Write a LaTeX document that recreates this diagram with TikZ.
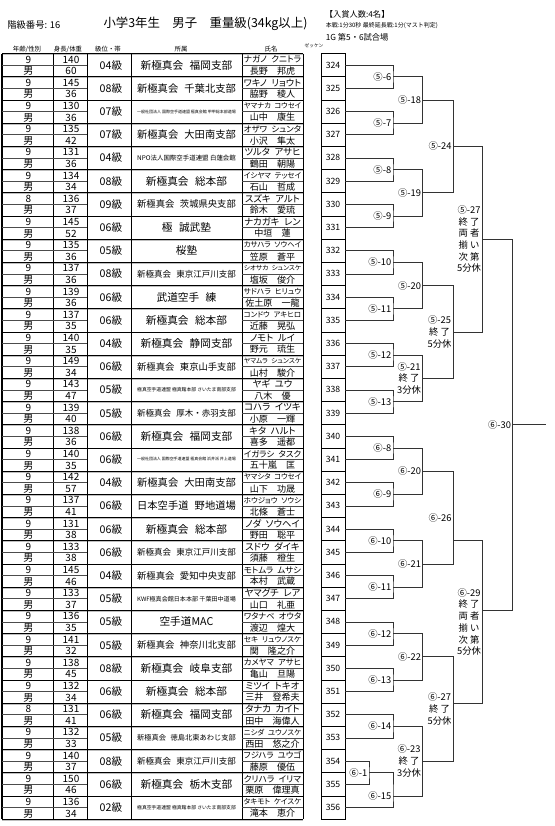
\documentclass[tikz,border=0pt]{standalone}
\usepackage{fontspec}
\usepackage{graphicx}
\setmainfont{Noto Sans CJK JP}
\newfontfamily\kanafont{Noto Sans CJK JP}[RawFeature=+palt]
\newcommand{\fsz}[1]{\fontsize{#1}{#1}\selectfont}
\newcommand{\gap}{\hspace{0.6em}}
\newcommand{\kgap}{\hspace{0.5em}}
\newsavebox{\fitbx}
\newcommand{\fitto}[2]{\sbox{\fitbx}{#2}\ifdim\wd\fitbx>#1\relax\resizebox{#1}{!}{\usebox{\fitbx}}\else\usebox{\fitbx}\fi}
% one bout of the bracket: name, x, y of line, y of label, upper, lower, label
\newcommand{\bout}[7]{%
	\coordinate (#1) at (#2,#3);
	\draw[bline] (#5) -| (#1) |- (#6);
	\node[blab] (#1l) at ({#2-1.5},#4) {#7};}

\begin{document}
\begin{tikzpicture}[x=0.75pt, y=-0.75pt,
	cell/.style={inner sep=0pt, font=\fsz{7.5}},
	grade/.style={inner sep=0pt, font=\fsz{8}},
	club/.style={inner sep=0pt, font=\fsz{8}},
	kana/.style={inner sep=0pt, font=\kanafont\fsz{7}},
	kanji/.style={inner sep=0pt, font=\fsz{6.8}},
	zcell/.style={draw, line width=0.5pt, minimum width=18pt, minimum height=17.4pt, inner sep=0pt, font=\fsz{6.5}},
	hdr/.style={inner sep=0pt, font=\fsz{4.8}},
	bline/.style={line width=0.55pt, black!80},
	blab/.style={anchor=east, align=center, inner sep=0pt, font=\fontsize{7}{8.8}\selectfont},
	tline/.style={line width=0.55pt},
	sline/.style={line width=0.4pt, black!70}]
	
	\useasboundingbox (0,0) rectangle (555,826);
	
	\node[anchor=west, inner sep=0pt, font=\fsz{7}] (lvl) at (7,25) {階級番号: 16};
	\node[inner sep=0pt, font=\fsz{9.3}] (ttl) at (205.5,24) {小学3年生　男子　重量級(34kg以上)};
	\node[anchor=west, inner sep=0pt, font=\fsz{6.2}] (prz) at (324.5,14) {【入賞人数:4名】};
	\node[anchor=west, inner sep=0pt, font=\fsz{4.5}] (rul) at (325.5,25.7) {本戦:1分30秒 最終延長戦:1分(マスト判定)};
	\node[anchor=west, inner sep=0pt, font=\fsz{6.2}] (crt) at (325.5,37) {1G 第5・6試合場};
	
	\node[hdr] (h1) at (27,49) {年齢/性別};
	\node[hdr] (h2) at (68,49) {身長/体重};
	\node[hdr] (h3) at (108,49) {級位・帯};
	\node[hdr] (h4) at (181,49) {所属};
	\node[hdr] (h5) at (271,49) {氏名};
	\node[inner sep=0pt, font=\fsz{3.5}] (h6) at (314,46) {ゼッケン};
	
	\foreach \k in {0,...,33}{
		\draw[gray!50, line width=0.8pt] (2,{53.5+\k*23.2+1}) -- (303,{53.5+\k*23.2+1});
		\draw[tline] (2,{53.5+\k*23.2}) -- (303,{53.5+\k*23.2});
	}
	\foreach \x in {53,87,131,242,303}{
		\draw[tline] (\x,53.5) -- (\x,819.1);
	}
	\draw[line width=0.9pt] (2,53.5) -- (2,819.1);
	
	\foreach \ag/\hgt/\wgt/\gr/\af/\kn/\kj [count=\i from 0] in {
		9/140/60/04級/新極真会\gap 福岡支部/ナガノ\kgap クニトラ/長野　邦虎,
		9/145/36/08級/新極真会\gap 千葉北支部/ワキノ\kgap リョウト/脇野　稜人,
		9/130/36/07級/一般社団法人 国際空手道連盟 極真会館 甲甲総本部道場/ヤマナカ\kgap コウセイ/山中　康生,
		9/135/42/07級/新極真会\gap 大田南支部/オザワ\kgap シュンタ/小沢　隼太,
		9/131/36/04級/NPO法人国際空手道連盟 白蓮会館/ツルタ\kgap アサヒ/鶴田　朝陽,
		9/134/34/08級/新極真会\gap 総本部/イシヤマ\kgap テッセイ/石山　哲成,
		8/136/37/09級/新極真会\gap 茨城県央支部/スズキ\kgap アルト/鈴木　愛琉,
		9/145/52/06級/極\gap 誠武塾/ナカガキ\kgap レン/中垣　蓮,
		9/135/36/05級/桜塾/カサハラ\kgap ソウヘイ/笠原　蒼平,
		9/137/36/08級/新極真会\gap 東京江戸川支部/シオサカ\kgap シュンスケ/塩坂　俊介,
		9/139/36/06級/武道空手\gap 練/サドハラ\kgap ヒリュウ/佐土原　一龍,
		9/137/35/06級/新極真会\gap 総本部/コンドウ\kgap アキヒロ/近藤　晃弘,
		9/140/35/04級/新極真会\gap 静岡支部/ノモト\kgap ルイ/野元　琉生,
		9/149/34/06級/新極真会\gap 東京山手支部/ヤマムラ\kgap シュンスケ/山村　駿介,
		9/143/47/05級/極真空手道連盟 極真館本部 さいたま南部支部/ヤギ\kgap ユウ/八木　優,
		9/139/40/05級/新極真会\gap 厚木・赤羽支部/コハラ\kgap イツキ/小原　一輝,
		9/138/36/06級/新極真会\gap 福岡支部/キタ\kgap ハルト/喜多　遥都,
		9/140/35/06級/一般社団法人 国際空手道連盟 極真会館 浜井派 井上道場/イガラシ\kgap タスク/五十嵐　匡,
		9/142/57/04級/新極真会\gap 大田南支部/ヤマシタ\kgap コウセイ/山下　功晟,
		9/137/41/06級/日本空手道\gap 野地道場/ホウジョウ\kgap ソウシ/北條　蒼士,
		9/131/38/06級/新極真会\gap 総本部/ノダ\kgap ソウヘイ/野田　聡平,
		9/133/38/06級/新極真会\gap 東京江戸川支部/スドウ\kgap ダイキ/須藤　橙生,
		9/145/46/04級/新極真会\gap 愛知中央支部/モトムラ\kgap ムサシ/本村　武蔵,
		9/133/37/05級/KWF極真会館日本本部 千葉田中道場/ヤマグチ\kgap レア/山口　礼亜,
		9/136/35/05級/空手道MAC/ワタナベ\kgap オウタ/渡辺　煌大,
		9/141/32/05級/新極真会\gap 神奈川北支部/セキ\kgap リュウノスケ/関　隆之介,
		9/138/45/08級/新極真会\gap 岐阜支部/カメヤマ\kgap アサヒ/亀山　旦陽,
		9/132/34/06級/新極真会\gap 総本部/ミツイ\kgap トキオ/三井　登希夫,
		8/131/41/06級/新極真会\gap 福岡支部/タナカ\kgap カイト/田中　海偉人,
		9/132/33/05級/新極真会\gap 徳島北東あわじ支部/ニシダ\kgap ユウノスケ/西田　悠之介,
		9/140/37/08級/新極真会\gap 東京江戸川支部/フジハラ\kgap ユウゴ/藤原　優伍,
		9/150/46/06級/新極真会\gap 栃木支部/クリハラ\kgap イリマ/栗原　偉理真,
		9/136/34/02級/極真空手道連盟 極真館本部 さいたま南部支部/タキモト\kgap ケイスケ/滝本　恵介}{
		\pgfmathsetmacro{\yt}{53.5+\i*23.2}
		\pgfmathtruncatemacro{\zn}{324+\i}
		\draw[sline] (2,\yt+11.6) -- (87,\yt+11.6) (242,\yt+11.6) -- (303,\yt+11.6);
		\node[cell] (ag\i) at (28.5,\yt+6) {\ag};
		\node[cell] (sx\i) at (28.5,\yt+17.6) {男};
		\node[cell] (hg\i) at (71,\yt+6) {\hgt};
		\node[cell] (wg\i) at (71,\yt+17.6) {\wgt};
		\node[grade] (gr\i) at (111,\yt+11.6) {\gr};
		\node[club] (af\i) at (186.5,\yt+11.6) {\fitto{74pt}{\af}};
		\node[kana] (kn\i) at (272.5,\yt+6) {\fitto{43pt}{\kn}};
		\node[kanji] (kj\i) at (272.5,\yt+17.6) {\kj};
		\node[zcell] (z\zn) at (333,\yt+11.6) {\zn};
	}
	
	\bout{m56}{393}{76.7}{76.7}{z324.east}{z325.east}{⑤-6}
	\bout{m57}{393}{123.1}{123.1}{z326.east}{z327.east}{⑤-7}
	\bout{m58}{393}{169.5}{169.5}{z328.east}{z329.east}{⑤-8}
	\bout{m59}{393}{215.9}{215.9}{z330.east}{z331.east}{⑤-9}
	\bout{m510}{393}{262.3}{262.3}{z332.east}{z333.east}{⑤-10}
	\bout{m511}{393}{308.7}{308.7}{z334.east}{z335.east}{⑤-11}
	\bout{m512}{393}{355.1}{355.1}{z336.east}{z337.east}{⑤-12}
	\bout{m513}{393}{401.5}{401.5}{z338.east}{z339.east}{⑤-13}
	\bout{m68}{393}{447.9}{447.9}{z340.east}{z341.east}{⑥-8}
	\bout{m69}{393}{494.3}{494.3}{z342.east}{z343.east}{⑥-9}
	\bout{m610}{393}{540.7}{540.7}{z344.east}{z345.east}{⑥-10}
	\bout{m611}{393}{587.1}{587.1}{z346.east}{z347.east}{⑥-11}
	\bout{m612}{393}{633.5}{633.5}{z348.east}{z349.east}{⑥-12}
	\bout{m613}{393}{679.9}{679.9}{z350.east}{z351.east}{⑥-13}
	\bout{m614}{393}{726.3}{726.3}{z352.east}{z353.east}{⑥-14}
	\bout{m61}{369}{772.7}{772.7}{z354.east}{z355.east}{⑥-1}
	\bout{m615}{393}{795.9}{795.9}{m61}{z356.east}{⑥-15}
	
	\bout{m518}{422.7}{99.9}{99.9}{m56}{m57}{⑤-18}
	\bout{m519}{422.7}{192.7}{192.7}{m58}{m59}{⑤-19}
	\bout{m520}{422.7}{285.5}{285.5}{m510}{m511}{⑤-20}
	\bout{m521}{422.7}{378.3}{378.3}{m512}{m513}{⑤-21\\終 了\\3分休}
	\bout{m620}{422.7}{471.1}{471.1}{m68}{m69}{⑥-20}
	\bout{m621}{422.7}{563.9}{563.9}{m610}{m611}{⑥-21}
	\bout{m622}{422.7}{656.7}{656.7}{m612}{m613}{⑥-22}
	\bout{m623}{422.7}{761.1}{761.1}{m614}{m615}{⑥-23\\終 了\\3分休}
	
	\bout{m524}{453.3}{146.3}{146.3}{m518}{m519}{⑤-24}
	\bout{m525}{453.3}{331.9}{331.9}{m520}{m521}{⑤-25\\終 了\\5分休}
	\bout{m626}{453.3}{540.7}{517.5}{m620}{m621}{⑥-26}
	\bout{m627}{453.3}{703.1}{708.9}{m622}{m623}{⑥-27\\終 了\\5分休}
	
	\bout{m527}{482.7}{239.1}{239.1}{m524}{m525}{⑤-27\\終 了\\両 者\\揃 い\\次 第\\5分休}
	\bout{m629}{482.7}{610.3}{621.9}{m626}{m627}{⑥-29\\終 了\\両 者\\揃 い\\次 第\\5分休}
	
	\bout{m630}{512.7}{424.7}{424.7}{m527}{m629}{⑥-30}
	\coordinate (fin) at (546,424.7);
	\draw[bline] (m630) -- (fin);
	
\end{tikzpicture}
\end{document}
